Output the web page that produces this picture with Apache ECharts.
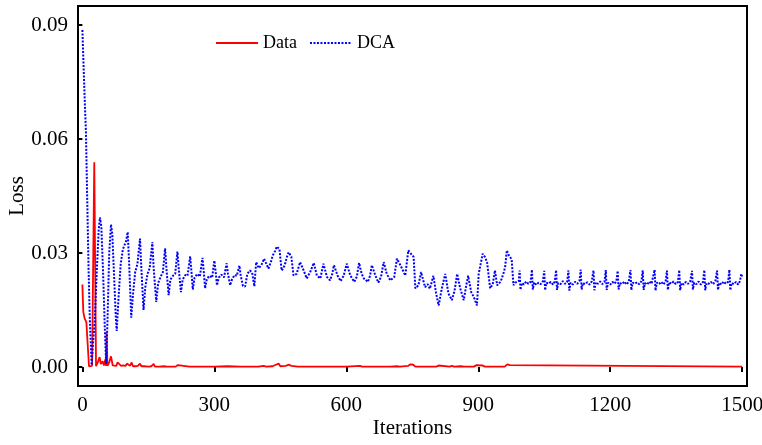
<!DOCTYPE html>
<html>
<head>
<meta charset="utf-8">
<script src="https://cdn.jsdelivr.net/npm/echarts@6/dist/echarts.min.js"></script>
<style>
html,body{margin:0;padding:0;background:#fff;}
#chart{width:762px;height:445px;}
</style>
</head>
<body>
<div id="chart"></div>
<script>
const seriesNames = ['Data', 'DCA'];
const xTicks = [0, 300, 600, 900, 1200, 1500];
const yTicks = [0, 0.03, 0.06, 0.09];

const dataLoss = [
[0,0.0217],[2,0.0145],[5,0.0128],[9,0.0118],[12,0.006],[15,0.0002],[18,0.0004],[22,0.0003],[27,0.0539],[31,0.0002],
[35,0.0012],[39,0.0026],[42,0.0008],[46,0.0015],[49,0.0004],[52,0.002],[54,0.0003],[55,0.0092],[57,0.0003],[61,0.0012],
[65,0.0028],[69,0.0004],[73,0.0009],[77,0.0003],[80,0.0012],[84,0.0016],[88,0.0003],[93,0.0004],[98,0.0003],[102,0.0009],
[105,0.0013],[108,0.0003],[112,0.0012],[115,0.0002],[120,0.0002],[126,0.0003],[131,0.0009],[134,0.0002],[140,0.0002],[150,0.0001],
[157,0.0002],[162,0.0008],[165,0.0001],[175,0.0001],[185,0.0002],[189,0.0007],[192,0.0001],[212,0.0001],[217,0.0005],[220,0.0001],
[243,0.0001],[247,0.0004],[250,0.0001],[272,0.0001],[275,0.0003],[278,0.0001],[300,0.0001],[330,0.0002],[360,0.0001],[400,0.0001],
[412,0.0003],[418,0.0001],[432,0.0002],[440,0.0006],[446,0.0009],[450,0.0002],[462,0.0003],[470,0.0006],[475,0.0003],[490,0.0001],
[560,0.0001],[600,0.0001],[631,0.0003],[636,0.0001],[700,0.0001],[715,0.0002],[722,0.0001],[741,0.0003],[746,0.0007],[752,0.0006],
[757,0.0001],[805,0.0001],[810,0.0004],[814,0.0001],[835,0.0001],[840,0.0003],[845,0.0001],[860,0.0002],[864,0.0004],[868,0.0001],
[890,0.0001],[896,0.0005],[900,0.0002],[910,0.0004],[915,0.0001],[960,0.0001],[966,0.0007],[972,0.0005],[976,0.0001],[1500,0.0001]
];

const dcaLoss = [
[0,0.0887],[3,0.078],[6,0.068],[8,0.062],[11,0.044],[14,0.026],[17,0.012],[21,0.0005],[24,0.006],[28,0.012],
[33,0.026],[37,0.036],[40,0.0394],[43,0.037],[47,0.025],[51,0.010],[54,0.0008],[57,0.012],[61,0.030],[65,0.0375],
[68,0.035],[72,0.024],[76,0.013],[78,0.0095],[82,0.018],[87,0.027],[92,0.031],[99,0.033],[103,0.0355],[106,0.028],
[111,0.013],[115,0.019],[120,0.025],[125,0.027],[131,0.0338],[134,0.026],[139,0.015],[143,0.021],[148,0.0245],[153,0.026],
[159,0.0329],[162,0.026],[168,0.0171],[172,0.022],[178,0.0238],[183,0.025],[188,0.0312],[191,0.026],[196,0.0189],[200,0.023],
[206,0.024],[211,0.0245],[216,0.0304],[219,0.026],[224,0.0197],[228,0.023],[234,0.0242],[239,0.024],[245,0.0291],[248,0.025],
[251,0.0204],[255,0.0235],[261,0.0245],[267,0.0238],[273,0.0287],[276,0.025],[279,0.0207],[283,0.0232],[289,0.024],[295,0.0235],
[300,0.028],[303,0.025],[306,0.0215],[310,0.0235],[316,0.0243],[322,0.0236],[328,0.0273],[331,0.0245],[336,0.0215],[340,0.023],
[346,0.0242],[351,0.024],[357,0.0267],[360,0.024],[365,0.0213],[370,0.0212],[375,0.0245],[381,0.0254],[386,0.0248],[391,0.0212],
[395,0.0276],[401,0.026],[407,0.0268],[413,0.0285],[418,0.0272],[423,0.0259],[428,0.0275],[433,0.0294],[438,0.0305],[442,0.0317],
[448,0.031],[453,0.0254],[457,0.026],[461,0.0272],[465,0.029],[469,0.0302],[475,0.029],[480,0.0241],[487,0.0245],[495,0.0276],
[503,0.0254],[510,0.0233],[518,0.025],[526,0.0274],[533,0.0241],[541,0.0233],[548,0.0272],[556,0.0237],[563,0.0228],[568,0.0245],
[572,0.0268],[580,0.0241],[587,0.0226],[594,0.024],[601,0.0272],[609,0.0241],[618,0.0224],[624,0.0238],[629,0.0274],[635,0.0245],
[640,0.0233],[649,0.0224],[654,0.024],[658,0.0268],[666,0.0241],[673,0.0222],[679,0.0238],[685,0.0276],[692,0.0245],[700,0.0228],
[709,0.0237],[715,0.0285],[723,0.0268],[734,0.0241],[741,0.0307],[747,0.0298],[753,0.029],[757,0.0207],[764,0.0215],[770,0.025],
[779,0.021],[785,0.0218],[790,0.0206],[798,0.024],[804,0.0195],[810,0.0162],[817,0.0206],[825,0.0245],[832,0.0194],[840,0.0176],
[846,0.02],[852,0.0245],[859,0.0207],[867,0.0176],[872,0.021],[877,0.024],[884,0.0197],[890,0.0184],[897,0.0162],[901,0.0245],
[905,0.0241],[910,0.0298],[915,0.029],[920,0.0276],[927,0.0207],[933,0.0218],[938,0.0254],[943,0.0215],[946,0.021],[951,0.0225],
[957,0.0245],[961,0.0262],[965,0.0307],[969,0.0295],[973,0.029],[976,0.0283],[980,0.0215],[984,0.0222],[988,0.0219],[992,0.0226],
[994,0.0254],[996,0.0203],[999,0.0221],[1004,0.0217],[1009,0.0225],[1014,0.0219],[1019,0.0224],
[1022,0.0256],[1024,0.0204],[1027,0.0223],[1032,0.0216],[1037,0.0222],[1042,0.0218],[1047,0.0226],
[1050,0.0253],[1052,0.0202],[1055,0.0222],[1060,0.0219],[1065,0.0224],[1070,0.0217],[1074,0.0225],
[1077,0.0255],[1079,0.0203],[1082,0.0221],[1087,0.0218],[1092,0.0226],[1097,0.0219],[1102,0.0223],
[1105,0.0254],[1107,0.0201],[1110,0.0222],[1115,0.0217],[1120,0.0224],[1125,0.0219],[1130,0.0226],
[1133,0.0256],[1135,0.0204],[1138,0.0221],[1143,0.0218],[1148,0.0223],[1153,0.0217],[1158,0.0225],
[1162,0.0254],[1164,0.0202],[1167,0.0223],[1172,0.0219],[1177,0.0225],[1182,0.0218],[1187,0.0224],
[1190,0.0255],[1192,0.0203],[1195,0.0222],[1200,0.0217],[1205,0.0224],[1210,0.0219],[1214,0.0226],
[1217,0.0253],[1219,0.0204],[1222,0.0221],[1227,0.0218],[1232,0.0225],[1237,0.0217],[1242,0.0224],
[1246,0.0255],[1248,0.0202],[1251,0.0222],[1256,0.0219],[1261,0.0223],[1266,0.0218],[1271,0.0226],
[1274,0.0254],[1276,0.0203],[1279,0.0221],[1284,0.0217],[1289,0.0225],[1294,0.0219],[1298,0.0224],
[1301,0.0256],[1303,0.0201],[1306,0.0222],[1311,0.0218],[1316,0.0224],[1321,0.0217],[1326,0.0225],
[1329,0.0254],[1331,0.0203],[1334,0.0223],[1339,0.0219],[1344,0.0225],[1349,0.0218],[1354,0.0224],
[1357,0.0255],[1359,0.0202],[1362,0.0221],[1367,0.0217],[1372,0.0224],[1377,0.0219],[1382,0.0226],
[1386,0.0253],[1388,0.0204],[1391,0.0222],[1396,0.0218],[1401,0.0225],[1406,0.0217],[1411,0.0224],
[1414,0.0255],[1416,0.0202],[1419,0.0221],[1424,0.0219],[1429,0.0224],[1434,0.0218],[1439,0.0226],
[1443,0.0254],[1445,0.0203],[1448,0.0222],[1453,0.0217],[1458,0.0225],[1463,0.0219],[1468,0.0224],
[1471,0.0256],[1473,0.0202],[1476,0.0221],[1481,0.0218],[1486,0.0224],[1491,0.0217],[1495,0.0226],
[1498,0.0245],[1500,0.0238]
];

const FONT = '"Liberation Serif", "Times New Roman", serif';
const chart = echarts.init(document.getElementById('chart'), null, {renderer: 'canvas'});
chart.setOption({
  animation: false,
  backgroundColor: '#fff',
  grid: {left: 78, right: 15, top: 6, bottom: 59, show: true, borderColor: '#000', borderWidth: 2,
    backgroundColor: 'transparent', containLabel: false, outerBoundsMode: 'none'},
  legend: {
    left: 215, top: 34, padding: 0, itemWidth: 42, itemHeight: 14, itemGap: 12,
    itemStyle: {opacity: 0},
    textStyle: {fontFamily: FONT, fontSize: 18, color: '#000', padding: [0, 0, 0, 0]},
    data: seriesNames
  },
  xAxis: {
    type: 'value', min: -10, max: 1511,
    name: 'Iterations', nameLocation: 'middle', nameGap: 32, nameMoveOverlap: false,
    nameTextStyle: {fontFamily: FONT, fontSize: 21, color: '#000'},
    axisLine: {show: false},
    axisTick: {show: true, length: 5, lineStyle: {color: '#000', width: 2}, customValues: xTicks},
    axisLabel: {fontFamily: FONT, fontSize: 21, color: '#000', margin: 9, customValues: xTicks,
      formatter: v => String(v)},
    splitLine: {show: false}
  },
  yAxis: {
    type: 'value', min: -0.005, max: 0.095,
    name: 'Loss', nameLocation: 'middle', nameGap: 50, nameMoveOverlap: false,
    nameTextStyle: {fontFamily: FONT, fontSize: 21, color: '#000'},
    axisLine: {show: false},
    axisTick: {show: true, length: 5, lineStyle: {color: '#000', width: 2}, customValues: yTicks},
    axisLabel: {fontFamily: FONT, fontSize: 21, color: '#000', margin: 10, customValues: yTicks,
      formatter: v => v.toFixed(2)},
    splitLine: {show: false}
  },
  series: [
    {name: seriesNames[0], type: 'line', data: dataLoss, symbol: 'none', smooth: false,
      lineStyle: {color: '#ff0000', width: 1.8}, itemStyle: {color: '#ff0000'}},
    {name: seriesNames[1], type: 'line', data: dcaLoss, symbol: 'none', smooth: false,
      lineStyle: {color: '#0000ff', width: 2, type: [2, 1.5]}, itemStyle: {color: '#0000ff'}}
  ]
});
</script>
</body>
</html>
